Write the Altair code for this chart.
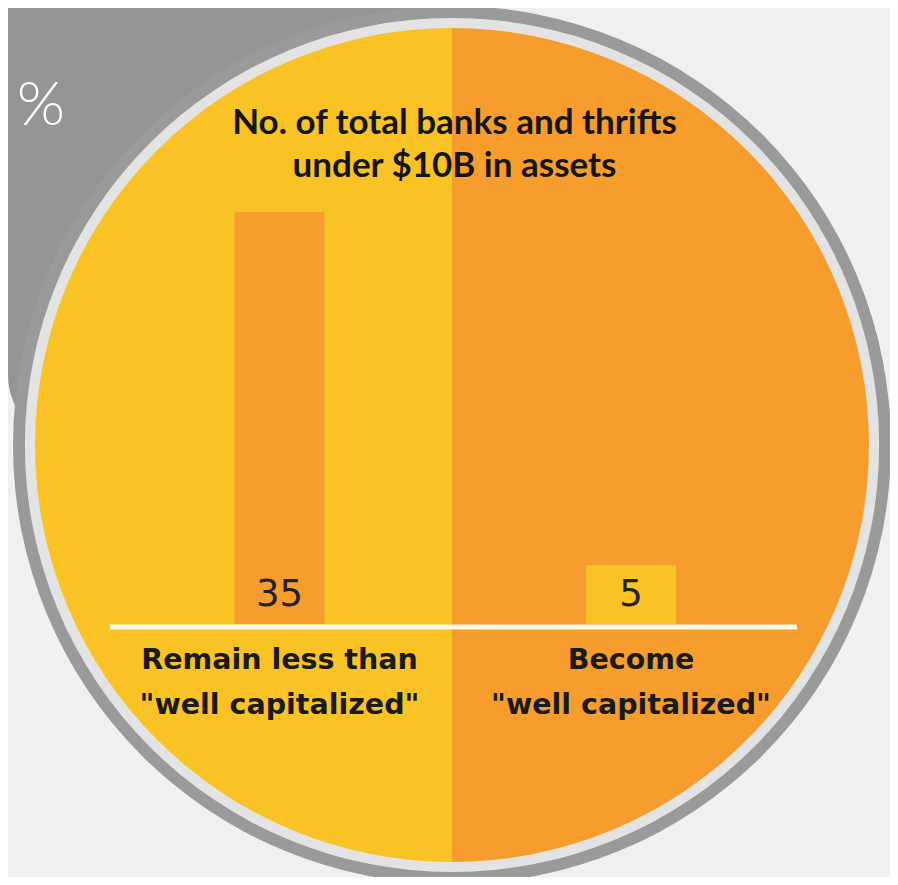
import math
import altair as alt
import pandas as pd

# ---- data ----
categories = ['Remain less than\n"well capitalized"', 'Become\n"well capitalized"']
values = [35, 5]
bar_colors = ["#F79D2E", "#FAC325"]
title_text = "No. of total banks and thrifts\nunder $10B in assets"
pct_text = "%"

# ---- layout / style ----
W, H = 882, 869
CX, CY = 444, 437
YELLOW = "#FAC325"
ORANGE = "#F79D2E"

bars_df = pd.DataFrame({"category": categories, "value": values})
one = pd.DataFrame({"k": [0]})

x_scale = alt.Scale(domain=categories, range=[95.75, 798.75], paddingInner=0, paddingOuter=0)
y_scale = alt.Scale(domain=[0, max(values)], range=[616, 204])

gray_shape = alt.Chart(one).mark_rect(color="#959595", cornerRadiusBottomLeft=70).encode(
    x=alt.value(0), x2=alt.value(CX), y=alt.value(0), y2=alt.value(CY)
)

ring_dark = alt.Chart(one).mark_arc(radius=439, theta=0, theta2=2 * math.pi, color="#9A9A9A").encode(
    x=alt.value(CX), y=alt.value(CY)
)
ring_light = alt.Chart(one).mark_arc(radius=427, theta=0, theta2=2 * math.pi, color="#E3E3E3").encode(
    x=alt.value(CX), y=alt.value(CY)
)
half_right = alt.Chart(one).mark_arc(radius=417, theta=0, theta2=math.pi, color=ORANGE).encode(
    x=alt.value(CX), y=alt.value(CY)
)
half_left = alt.Chart(one).mark_arc(radius=417, theta=math.pi, theta2=2 * math.pi, color=YELLOW).encode(
    x=alt.value(CX), y=alt.value(CY)
)

bars = alt.Chart(bars_df).mark_bar(width=90).encode(
    x=alt.X("category:N", scale=x_scale, axis=None, sort=categories),
    y=alt.Y("value:Q", scale=y_scale, axis=None),
    color=alt.Color("category:N", scale=alt.Scale(domain=categories, range=bar_colors), legend=None),
)

baseline = alt.Chart(one).mark_rule(color="#FFF8EA", strokeWidth=5, yOffset=3).encode(
    x=alt.value(102), x2=alt.value(789), y=alt.datum(0)
)

value_labels = alt.Chart(bars_df).mark_text(
    font="DejaVu Sans", fontSize=37, color="#222222", baseline="alphabetic", align="center", dy=-18
).encode(
    x=alt.X("category:N", scale=x_scale, axis=None, sort=categories),
    y=alt.datum(0),
    text="value:Q",
)

cat_labels = alt.Chart(bars_df).mark_text(
    font="DejaVu Sans", fontWeight="bold", fontSize=28.5, color="#1A1A1A", baseline="alphabetic",
    align="center", lineBreak="\n", lineHeight=45, dy=45
).encode(
    x=alt.X("category:N", scale=x_scale, axis=None, sort=categories),
    y=alt.datum(0),
    text="category:N",
)

title = alt.Chart(one).mark_text(
    text=title_text, font="Lato", fontWeight="bold", fontSize=35, color="#151515",
    baseline="alphabetic", align="center", lineBreak="\n", lineHeight=43
).encode(x=alt.value(446.5), y=alt.value(126))

pct = alt.Chart(one).mark_text(
    text=pct_text, font="Lato", fontWeight=300, fontSize=62, color="#FFFFFF",
    baseline="alphabetic", align="center"
).encode(x=alt.value(33), y=alt.value(117))

chart = alt.layer(
    gray_shape, ring_dark, ring_light, half_right, half_left,
    bars, baseline, value_labels, cat_labels, title, pct
).properties(
    width=W, height=H, padding=0,
    autosize=alt.AutoSizeParams(type="none"),
    background="#F0F0F0",
).configure_view(stroke=None)

chart.save("out.html", embed_options={"renderer": "svg", "actions": False})
